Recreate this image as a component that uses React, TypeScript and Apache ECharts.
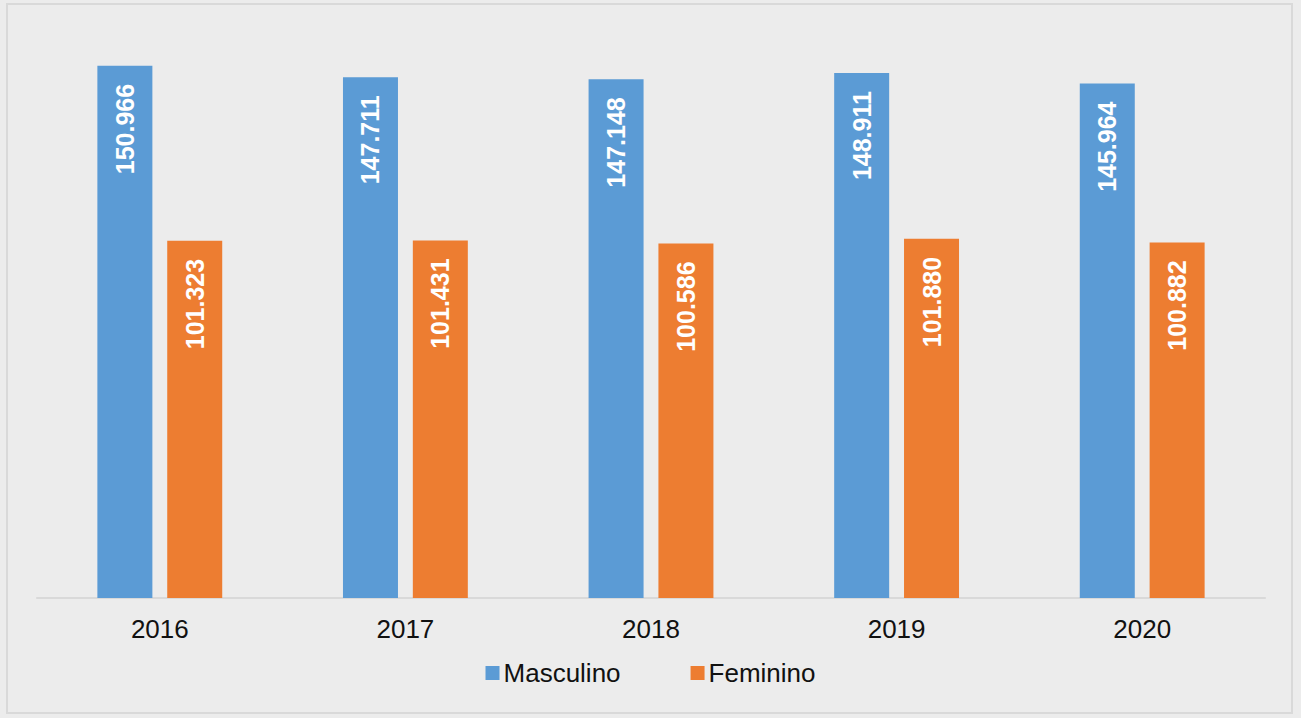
import React, { useEffect, useRef } from "react";
import * as echarts from "echarts";

const categories = ["2016", "2017", "2018", "2019", "2020"];
const masculino = [150966, 147711, 147148, 148911, 145964];
const feminino = [101323, 101431, 100586, 101880, 100882];

const fmt = (v: number) => {
  const s = String(v);
  return s.slice(0, s.length - 3) + "." + s.slice(s.length - 3);
};

export default function App() {
  const ref = useRef<HTMLDivElement>(null);
  useEffect(() => {
    document.body.style.margin = "0";
    const chart = echarts.init(ref.current!, null, { renderer: "svg" });
    const label = {
      show: true,
      position: "insideTop" as const,
      rotate: 90,
      align: "right" as const,
      verticalAlign: "middle" as const,
      distance: 18,
      color: "#ffffff",
      fontWeight: "bold" as const,
      fontSize: 25,
      fontFamily: "Liberation Sans, Arial, sans-serif",
      formatter: (p: any) => fmt(p.value),
    };
    chart.setOption({
      animation: false,
      backgroundColor: "#ececec",
      graphic: [
        {
          type: "rect",
          shape: { x: 7, y: 4, width: 1285, height: 709 },
          style: { fill: "none", stroke: "#d9d9d9", lineWidth: 2 },
          silent: true,
        },
      ],
      grid: { left: 37, right: 36, top: 34, bottom: 120, containLabel: false },
      legend: {
        bottom: 27,
        left: "center",
        icon: "rect",
        itemWidth: 14,
        itemHeight: 14,
        itemGap: 70,
        textStyle: {
          fontSize: 26,
          color: "#111",
          fontFamily: "Liberation Sans, Arial, sans-serif",
          padding: [0, 0, 0, -1],
        },
        data: ["Masculino", "Feminino"],
      },
      xAxis: {
        type: "category",
        data: categories,
        axisLine: { lineStyle: { color: "#d9d9d9", width: 2 } },
        axisTick: { show: false },
        axisLabel: {
          fontSize: 26,
          color: "#111",
          margin: 18,
          fontFamily: "Liberation Sans, Arial, sans-serif",
        },
      },
      yAxis: {
        type: "value",
        min: 0,
        max: 160000,
        show: false,
        splitLine: { show: false },
      },
      series: [
        {
          name: "Masculino",
          type: "bar",
          data: masculino,
          barWidth: 55,
          barGap: "27%",
          itemStyle: { color: "#5b9bd5" },
          label,
        },
        {
          name: "Feminino",
          type: "bar",
          data: feminino,
          barWidth: 55,
          barGap: "27%",
          itemStyle: { color: "#ed7d31" },
          label,
        },
      ],
    });
    return () => chart.dispose();
  }, []);
  return <div ref={ref} style={{ width: 1301, height: 718 }} />;
}
